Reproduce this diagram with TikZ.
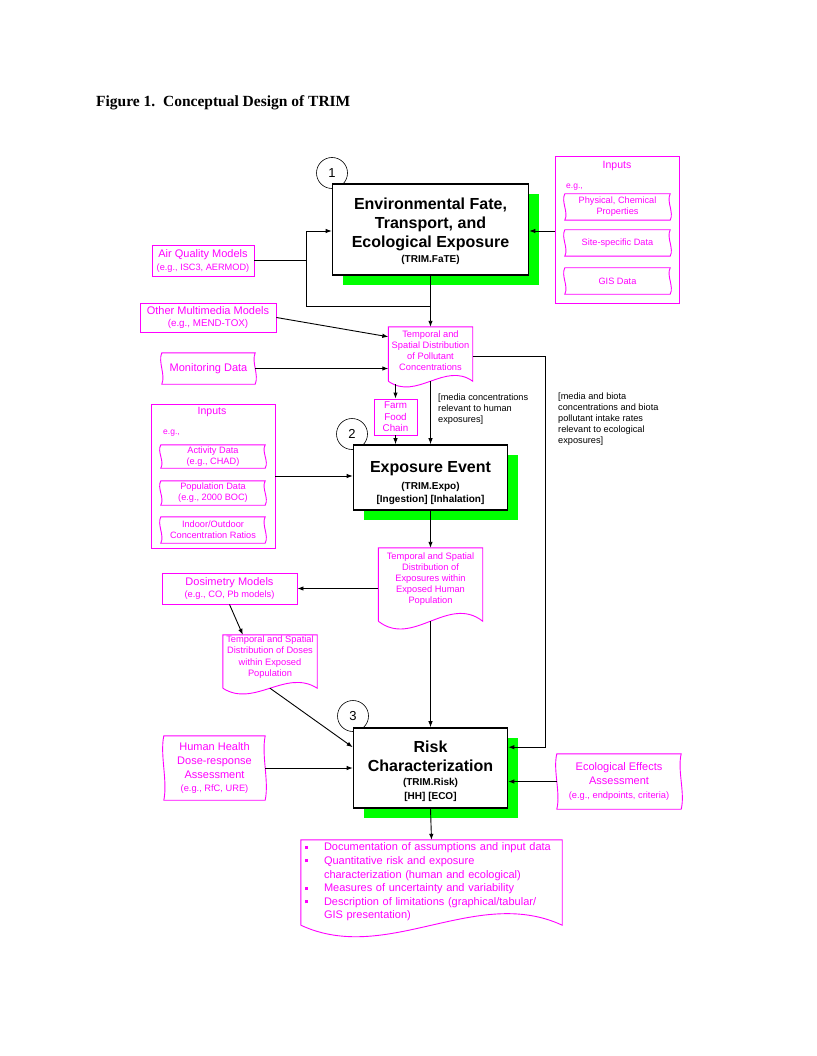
\documentclass[tikz,border=0pt]{standalone}
\usepackage{fontspec}
\setmainfont{Liberation Sans}
\newfontfamily\titlefont{Liberation Serif}
\usetikzlibrary{arrows.meta,shadows,calc}
\definecolor{mag}{RGB}{255,0,255}
\definecolor{shade}{RGB}{0,255,0}
\newcommand{\fs}[2]{\fontsize{#1}{#2}\selectfont}
\newcommand{\bul}{\makebox[19pt][l]{\rule[2pt]{3pt}{3pt}}}
%tall strut in the first line, to push the text of a box down
\newcommand{\up}[1]{\rule{0pt}{#1pt}}
%frame with wavy left and right sides round a node
\newcommand\tapeframe[1]{%
    \draw[magline] (#1.north west) -- (#1.north east)
        .. controls ($(#1.north east)!.3!(#1.south east)+(-4,0)$) and ($(#1.north east)!.7!(#1.south east)+(4,0)$) .. (#1.south east)
        -- (#1.south west)
        .. controls ($(#1.north west)!.7!(#1.south west)+(4,0)$) and ($(#1.north west)!.3!(#1.south west)+(-4,0)$) .. cycle;%
}
%frame with wavy bottom, #2 is the wave height, #3 how far the corners go below the node
\newcommand\docframe[3]{%
    \draw[magline] ($(#1.south west)+(0,#3)$) -- (#1.north west) -- (#1.north east) -- ($(#1.south east)+(0,#3)$)
        .. controls ($(#1.south east)!.33!(#1.south west)+(0,#3-#2)$) and ($(#1.south east)!.67!(#1.south west)+(0,#3+#2)$) .. ($(#1.south west)+(0,#3)$);%
}
\begin{document}
\begin{tikzpicture}[x=1pt,y=-1pt,
magline/.style={draw=mag, line width=0.9},
magbox/.style={draw=mag, line width=0.9, text=mag, align=center, inner sep=0},
magtext/.style={text=mag, align=center, inner sep=0},
mainbox/.style={draw, line width=1.6, fill=white, align=center, inner sep=0, font=\fs{16}{19}\bfseries,
    drop shadow={shadow xshift=10pt, shadow yshift=-10pt, fill=shade, opacity=1}},
stepnum/.style={circle, draw, fill=white, line width=0.6, minimum size=31, inner sep=0, font=\fs{13}{15}},
note/.style={align=left, inner sep=0, font=\fs{9.2}{11}},
arr/.style={line width=0.9, -{Latex[length=6pt,width=4.5pt]}}]
\fill[white] (0,0) rectangle (816,1056);
\node[anchor=base west, inner sep=0, font=\titlefont\bfseries\fs{15.5}{17}] (title) at (96,107) {Figure 1.\ \ Conceptual Design of TRIM};

%numbers of the three steps, under the boxes
\node[stepnum] (n1) at (332,173) {1};
\node[stepnum] (n2) at (352,434) {2};
\node[stepnum] (n3) at (353,716) {3};

%main boxes
\node[mainbox, minimum width=196, minimum height=91] (box1) at (430.5,229.5)
    {\up{15}Environmental Fate,\\Transport, and\\Ecological Exposure\\[-4pt]{\fs{10}{12}(TRIM.FaTE)}};
\node[mainbox, minimum width=154, minimum height=65] (box2) at (430.5,477.5)
    {\up{23}Exposure Event\\[-2pt]{\fs{10}{12}(TRIM.Expo)}\\[-6pt]{\fs{10}{12}[Ingestion] [Inhalation]}};
\node[mainbox, minimum width=154, minimum height=80] (box3) at (430.5,768)
    {\up{19}Risk\\Characterization\\[-5pt]{\fs{10}{12}(TRIM.Risk)}\\[-5pt]{\fs{10}{12}[HH] [ECO]}};

%inputs of step 1
\node[magbox, minimum width=124, minimum height=147] (inR) at (617,229.5) {};
\node[magtext, font=\fs{10.5}{12}] (inRt) at (617,166) {Inputs};
\node[magtext, anchor=west, font=\fs{8.5}{10}] (inReg) at (566,187) {e.g.,};
\node[magtext, minimum width=105, minimum height=26, font=\fs{9.2}{11}] (pc) at (617.5,207) {Physical, Chemical\\Properties};
\node[magtext, minimum width=105, minimum height=26, font=\fs{9.2}{11}] (ss) at (617.5,243) {Site-specific Data};
\node[magtext, minimum width=105, minimum height=26, font=\fs{9.2}{11}] (gis) at (617.5,281) {GIS Data};
\node[magbox, minimum width=102, minimum height=31, font=\fs{11}{13}] (aqm) at (203,260.5)
    {Air Quality Models\\{\fs{9.2}{11}(e.g., ISC3, AERMOD)}};
\node[magbox, minimum width=136, minimum height=29, font=\fs{11}{12.5}] (omm) at (208,317.5)
    {Other Multimedia Models\\{\fs{9.8}{11}(e.g., MEND-TOX)}};
\node[magtext, minimum width=93, minimum height=31, font=\fs{11}{12}] (mon) at (208.5,368.5) {Monitoring Data};

%concentrations and food chain
\node[magtext, minimum width=84, minimum height=47, font=\fs{9.3}{11}] (poll) at (430.5,350.5)
    {Temporal and\\Spatial Distribution\\of Pollutant\\Concentrations};
\node[magbox, minimum width=43, minimum height=36, font=\fs{9.8}{11.5}] (farm) at (395.5,417) {Farm\\Food\\Chain};
\node[note, anchor=north west] (hlab) at (438,393.5) {[media concentrations\\relevant to human\\exposures]};
\node[note, anchor=north west] (elab) at (558,392.5)
    {[media and biota\\concentrations and biota\\pollutant intake rates\\relevant to ecological\\exposures]};

%inputs of step 2
\node[magbox, minimum width=124, minimum height=144] (inL) at (213,476) {};
\node[magtext, font=\fs{10.5}{12}] (inLt) at (212,412) {Inputs};
\node[magtext, anchor=west, font=\fs{8.5}{10}] (inLeg) at (163,433) {e.g.,};
\node[magtext, minimum width=104, minimum height=23, font=\fs{9.2}{11}] (act) at (213,456.5) {Activity Data\\(e.g., CHAD)};
\node[magtext, minimum width=104, minimum height=24, font=\fs{9.2}{11}] (pop) at (213,493) {Population Data\\(e.g., 2000 BOC)};
\node[magtext, minimum width=104, minimum height=26, font=\fs{9.2}{11}] (io) at (213,530) {Indoor/Outdoor\\Concentration Ratios};

%exposures and doses
\node[magtext, minimum width=104, minimum height=62, font=\fs{9.3}{10.8}] (expo) at (430.5,579)
    {Temporal and Spatial\\Distribution of\\Exposures within\\Exposed Human\\Population};
\node[magbox, minimum width=135, minimum height=31, font=\fs{11}{12}] (dos) at (229.5,588.5)
    {Dosimetry Models\\{\fs{9.3}{11}(e.g., CO, Pb models)}};
\node[magtext, minimum width=94, minimum height=44, font=\fs{9.3}{11.3}] (doses) at (270,657)
    {Temporal and Spatial\\Distribution of Doses\\within Exposed\\Population};

%inputs of step 3
\node[magtext, minimum width=101, minimum height=64, font=\fs{11}{14}] (hh) at (214.5,768)
    {Human Health\\Dose-response\\Assessment\\[-1pt]{\fs{9.3}{11}(e.g., RfC, URE)}};
\node[magtext, minimum width=124, minimum height=55, font=\fs{11}{14}] (eco) at (619,781.5)
    {Ecological Effects\\Assessment\\{\fs{9.3}{11}(e.g., endpoints, criteria)}};

%results
\node[magtext, align=left, text width=253, inner xsep=4, minimum height=84, font=\fs{11}{13.6}] (out) at (431.5,882)
    {\bul Documentation of assumptions and input data\\
     \bul Quantitative risk and exposure\\
     \hspace*{19pt}characterization (human and ecological)\\
     \bul Measures of uncertainty and variability\\
     \bul Description of limitations (graphical/tabular/\\
     \hspace*{19pt}GIS presentation)};

%frames of the magenta shapes
\foreach \t in {pc,ss,gis,mon,act,pop,io,hh,eco}{
    \tapeframe{\t}
}
\foreach \d/\a/\e in {poll/20/7,expo/27/11,doses/20/9,out/40/1}{
    \docframe{\d}{\a}{\e}
}

%connectors
\coordinate (jn) at (306,231);
\coordinate (jb) at (306,306);
\coordinate (rc) at (545,0);
\coordinate (r3) at ([yshift=-20pt]box3.north east);
\draw[arr] (box1.south) -- (poll.north);
\draw (aqm.east) -- (aqm.east -| jn);
\draw[arr] (jb) -- (jn) -- (jn -| box1.west);
\draw (jb) -- (jb -| box1.south);
\draw[arr] (inR.west |- jn) -- (jn -| box1.east);
\draw[arr] (omm.east) -- ([yshift=-10pt]poll.north west);
\draw[arr] (mon.east) -- (mon.east -| poll.west);
\draw[arr] ($(poll.south -| farm.north)+(0,10)$) -- (farm.north);
\draw[arr] (farm.south) -- (farm.south |- box2.north);
\draw[arr] ($(poll.south)+(0,7)$) -- (box2.north);
\draw[arr] ($(poll.east)+(0,6)$) -- ($(poll.east -| rc)+(0,6)$) -- (rc |- r3) -- (r3);
\draw[arr] (inL.east) -- (inL.east -| box2.west);
\draw[arr] (box2.south) -- (expo.north);
\draw[arr] (dos.east -| expo.west) -- (dos.east);
\draw[arr] (dos.south) -- ([xshift=20pt]doses.north west);
\draw[arr] ($(doses.south)+(0,9)$) -- ([yshift=-20pt]box3.north west);
\draw[arr] ($(expo.south)+(0,11)$) -- (box3.north);
\draw[arr] (hh.east) -- (hh.east -| box3.west);
\draw[arr] (eco.west) -- (eco.west -| box3.east);
\draw[arr] (box3.south) -- (out.north);
\end{tikzpicture}
\end{document}
